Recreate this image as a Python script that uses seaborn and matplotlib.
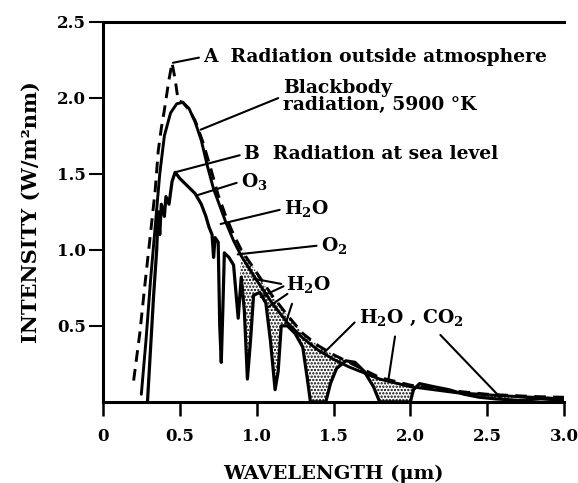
import numpy as np
import pandas as pd
import matplotlib
matplotlib.use("Agg")
import matplotlib.pyplot as plt
import seaborn as sns

# Solar spectrum curves (wavelength in um, intensity in W/m^2 nm)
wl_outside = [0.20, 0.24, 0.27, 0.31, 0.34, 0.36, 0.38, 0.40, 0.43, 0.45, 0.47, 0.49,
              0.52, 0.56, 0.60, 0.65, 0.70, 0.75, 0.80, 0.85, 0.90, 1.00, 1.10, 1.20,
              1.30, 1.40, 1.50, 1.60, 1.70, 1.80, 2.00, 2.20, 2.50, 2.80, 3.00]
int_outside = [0.14, 0.45, 0.74, 1.11, 1.39, 1.65, 1.80, 1.92, 2.12, 2.23, 2.12, 1.98,
               1.97, 1.92, 1.85, 1.71, 1.54, 1.36, 1.22, 1.10, 1.00, 0.85, 0.70, 0.57,
               0.45, 0.37, 0.31, 0.26, 0.21, 0.16, 0.11, 0.08, 0.05, 0.035, 0.03]

wl_blackbody = [0.25, 0.28, 0.31, 0.34, 0.37, 0.40, 0.44, 0.48, 0.52, 0.56, 0.60, 0.64,
                0.68, 0.72, 0.76, 0.80, 0.85, 0.90, 1.00, 1.10, 1.20, 1.30, 1.40, 1.50,
                1.60, 1.80, 2.00, 2.30, 2.60, 3.00]
int_blackbody = [0.05, 0.40, 0.80, 1.15, 1.50, 1.75, 1.90, 1.96, 1.97, 1.93, 1.84, 1.72,
                 1.55, 1.40, 1.29, 1.18, 1.06, 0.96, 0.80, 0.65, 0.52, 0.42, 0.34, 0.28,
                 0.23, 0.15, 0.10, 0.06, 0.04, 0.02]

wl_sea = [0.29, 0.31, 0.33, 0.35, 0.36, 0.37, 0.38, 0.40, 0.41, 0.43, 0.45, 0.47, 0.50,
          0.55, 0.60, 0.64, 0.67, 0.69, 0.71, 0.72, 0.73, 0.75, 0.76, 0.77, 0.78, 0.79,
          0.82, 0.85, 0.88, 0.90, 0.92, 0.94, 0.96, 0.98, 1.02, 1.06, 1.09, 1.12, 1.14,
          1.16, 1.20, 1.25, 1.30, 1.33, 1.35, 1.45, 1.48, 1.52, 1.58, 1.64, 1.70, 1.76,
          1.80, 2.00, 2.02, 2.06, 2.15, 2.25, 2.35, 2.45, 2.55, 2.70, 2.85, 3.00]
int_sea = [0.00, 0.35, 0.70, 1.00, 1.25, 1.10, 1.30, 1.22, 1.35, 1.30, 1.45, 1.51, 1.47,
           1.42, 1.37, 1.30, 1.22, 1.15, 1.10, 0.95, 1.08, 1.05, 0.50, 0.26, 0.60, 0.98,
           0.95, 0.90, 0.55, 0.82, 0.60, 0.15, 0.40, 0.70, 0.72, 0.65, 0.40, 0.08, 0.20,
           0.50, 0.50, 0.45, 0.36, 0.15, 0.00, 0.00, 0.12, 0.22, 0.27, 0.26, 0.20, 0.10,
           0.00, 0.00, 0.08, 0.12, 0.10, 0.08, 0.05, 0.03, 0.02, 0.01, 0.02, 0.01]

x_ticks = [0, 0.5, 1.0, 1.5, 2.0, 2.5, 3.0]
x_tick_labels = ["0", "0.5", "1.0", "1.5", "2.0", "2.5", "3.0"]
y_ticks = [0.5, 1.0, 1.5, 2.0, 2.5]
y_tick_labels = ["0.5", "1.0", "1.5", "2.0", "2.5"]

sns.set_style("ticks")
plt.rcParams['font.family'] = ['DejaVu Serif', 'Liberation Serif']
plt.rcParams['font.weight'] = 'bold'
plt.rcParams['mathtext.default'] = 'regular'
plt.rcParams['hatch.linewidth'] = 1.1
plt.rcParams.update({'text.color': 'black', 'axes.labelcolor': 'black',
                     'xtick.color': 'black', 'ytick.color': 'black',
                     'axes.edgecolor': 'black'})

fig = plt.figure(figsize=(5.78, 4.83), dpi=100)
ax = fig.add_axes([0.178, 0.168, 0.798, 0.787])

df_a = pd.DataFrame({"wl": wl_outside, "I": int_outside})
df_bb = pd.DataFrame({"wl": wl_blackbody, "I": int_blackbody})
df_b = pd.DataFrame({"wl": wl_sea, "I": int_sea})

# stippled absorption area between curve A and curve B (long-wave part)
sea_part = df_b[df_b["wl"] >= 0.88]
out_part = df_a[df_a["wl"] >= 0.88].iloc[::-1]
poly_x = list(sea_part["wl"]) + list(out_part["wl"])
poly_y = list(sea_part["I"]) + list(out_part["I"])
ax.fill(poly_x, poly_y, facecolor="none", edgecolor="black", hatch=".....", linewidth=0)

sns.lineplot(data=df_a, x="wl", y="I", ax=ax, sort=False, estimator=None,
             color="black", linewidth=2.1, linestyle=(0, (4, 2.5)))
sns.lineplot(data=df_bb, x="wl", y="I", ax=ax, sort=False, estimator=None,
             color="black", linewidth=2.1)
sns.lineplot(data=df_b, x="wl", y="I", ax=ax, sort=False, estimator=None,
             color="black", linewidth=2.3)

ax.set_xlim(0, 3.0)
ax.set_ylim(0, 2.5)
ax.set_xticks(x_ticks)
ax.set_xticklabels(x_tick_labels)
ax.set_yticks(y_ticks)
ax.set_yticklabels(y_tick_labels)
ax.tick_params(axis="x", direction="out", length=10, width=1.8, labelsize=12, pad=9)
ax.tick_params(axis="y", direction="out", length=10, width=1.5, labelsize=12, pad=2)
for lab in ax.get_xticklabels() + ax.get_yticklabels():
    lab.set_fontweight("bold")
for side in ["left", "bottom", "top"]:
    ax.spines[side].set_linewidth(2.2)
ax.spines["right"].set_visible(False)

ax.set_xlabel("WAVELENGTH (μm)", fontsize=14, fontweight="bold", labelpad=14)
ax.set_ylabel("INTENSITY (W/m²nm)", fontsize=15, fontweight="bold", labelpad=12)

# labels with leader lines
lead = dict(arrowstyle="-", color="black", lw=1.5, shrinkA=1, shrinkB=0, relpos=(0, 0.5))
tsize = 13.5
ax.annotate("A  Radiation outside atmosphere", xy=(0.455, 2.23), xytext=(0.655, 2.27),
            ha="left", va="center", fontsize=tsize, fontweight="bold", arrowprops=lead)
ax.annotate("Blackbody\nradiation, 5900 °K", xy=(0.636, 1.79), xytext=(1.17, 2.01),
            ha="left", va="center", fontsize=tsize, fontweight="bold", linespacing=0.95,
            arrowprops=lead)
ax.annotate("B  Radiation at sea level", xy=(0.47, 1.51), xytext=(0.92, 1.63),
            ha="left", va="center", fontsize=tsize, fontweight="bold", arrowprops=lead)
ax.annotate("O$_3$", xy=(0.617, 1.36), xytext=(0.90, 1.45),
            ha="left", va="center", fontsize=tsize, fontweight="bold", arrowprops=lead)
ax.annotate("H$_2$O", xy=(0.766, 1.17), xytext=(1.18, 1.27),
            ha="left", va="center", fontsize=tsize, fontweight="bold", arrowprops=lead)
ax.annotate("O$_2$", xy=(0.877, 0.97), xytext=(1.42, 1.03),
            ha="left", va="center", fontsize=tsize, fontweight="bold", arrowprops=lead)
ax.annotate("H$_2$O", xy=(0.98, 0.81), xytext=(1.19, 0.77),
            ha="left", va="center", fontsize=tsize, fontweight="bold", arrowprops=lead)
seg = dict(arrowstyle="-", color="black", lw=1.5, shrinkA=0, shrinkB=0)
ax.annotate("", xy=(1.026, 0.69), xytext=(1.175, 0.76), arrowprops=seg)
ax.annotate("", xy=(1.07, 0.62), xytext=(1.20, 0.71), arrowprops=seg)
ax.annotate("", xy=(1.19, 0.52), xytext=(1.23, 0.645), arrowprops=seg)
ax.annotate("H$_2$O , CO$_2$", xy=(1.435, 0.32), xytext=(1.665, 0.55),
            ha="left", va="center", fontsize=tsize, fontweight="bold", arrowprops=lead)
ax.annotate("", xy=(1.857, 0.145), xytext=(1.90, 0.43), arrowprops=seg)
ax.annotate("", xy=(2.584, 0.03), xytext=(2.195, 0.44), arrowprops=seg)

fig.savefig("out.png", dpi=100)
